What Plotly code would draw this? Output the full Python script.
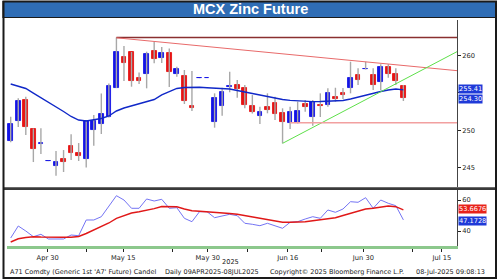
import plotly.graph_objects as go

W, H = 500, 280

# ---------------- data ----------------
open_ = [248.55, 251.30, 254.12, 250.13, 248.11, 245.85, 245.23, 246.09, 247.88, 246.98,
         246.13, 250.09, 250.90, 251.84, 255.70, 259.87, 260.43, 257.01, 257.50, 260.63,
         259.65, 260.36, 257.50, 257.28, 253.25, 256.96, 256.96, 251.06, 253.29, 255.80,
         256.07, 255.70, 253.25, 251.95, 253.07, 253.69, 252.27, 250.93, 250.93, 253.52,
         251.73, 253.38, 253.38, 254.50, 254.99, 255.70, 257.41, 258.15, 257.41, 256.51,
         258.52, 257.50, 255.93]
close = [250.79, 253.92, 250.47, 247.48, 248.32, 245.88, 245.77, 245.80, 246.90, 246.58,
         251.23, 251.25, 252.13, 255.93, 260.54, 259.06, 256.64, 256.60, 260.19, 259.52,
         260.40, 257.77, 258.17, 253.96, 252.94, 256.99, 256.99, 254.36, 255.09, 255.87,
         255.53, 253.38, 252.40, 252.48, 252.71, 252.17, 251.06, 252.40, 252.58, 253.07,
         253.74, 253.25, 254.95, 254.19, 254.72, 256.97, 256.74, 258.19, 256.07, 258.52,
         257.50, 256.64, 254.30]
high = [251.81, 254.28, 254.50, 250.23, 250.25, 245.88, 247.21, 247.34, 249.45, 248.28,
        251.30, 252.04, 254.93, 256.27, 262.44, 261.30, 260.50, 257.74, 260.54, 261.88,
        261.17, 260.97, 258.52, 258.08, 257.95, 256.99, 256.99, 254.95, 255.70, 257.85,
        256.74, 256.07, 254.72, 253.15, 254.95, 254.50, 252.94, 253.15, 253.83, 254.05,
        254.05, 254.95, 255.62, 255.70, 255.66, 259.19, 258.31, 259.19, 258.31, 258.85,
        258.85, 258.31, 256.07]
low = [248.38, 250.43, 249.36, 245.73, 246.81, 245.85, 243.89, 244.39, 246.00, 245.87,
       244.99, 247.92, 249.49, 251.70, 255.66, 256.60, 255.84, 256.20, 255.62, 258.98,
       259.02, 255.80, 257.18, 253.52, 252.58, 256.96, 256.96, 250.34, 251.95, 255.09,
       254.36, 252.94, 252.24, 250.83, 252.27, 251.37, 248.24, 250.16, 250.90, 252.48,
       250.60, 251.77, 253.15, 253.83, 254.19, 254.95, 256.07, 258.15, 255.40, 255.40,
       257.05, 256.07, 253.92]
ma_line = [256.20, 255.89, 255.60, 254.99, 254.39, 253.78, 253.18, 252.51, 251.84, 251.37,
           251.23, 251.37, 251.57, 251.91, 252.58, 252.98, 253.25, 253.52, 253.78, 254.12,
           254.73, 255.19, 255.60, 255.73, 255.76, 255.76, 255.69, 255.62, 255.60, 255.53,
           255.33, 255.13, 254.86, 254.66, 254.46, 254.26, 254.12, 254.01, 253.92, 253.85,
           253.83, 253.85, 253.92, 253.96, 253.99, 254.19, 254.46, 254.66, 254.93, 255.19,
           255.40, 255.53, 255.41]
rsi = [35.48, 43.23, 40.00, 36.32, 37.87, 34.84, 34.84, 34.84, 37.42, 36.97,
       47.10, 47.10, 49.23, 56.13, 62.77, 60.00, 54.65, 54.65, 60.65, 59.35,
       60.45, 54.65, 55.03, 48.19, 46.00, 52.45, 52.45, 48.58, 49.68, 50.77,
       49.87, 44.97, 44.32, 43.42, 44.97, 43.23, 41.74, 45.61, 46.00, 47.74,
       49.23, 48.19, 53.55, 52.06, 54.19, 58.90, 58.52, 61.48, 54.65, 60.00,
       57.87, 56.32, 47.1728]
rsi_ma = [32.90, 34.97, 35.81, 36.32, 36.13, 35.94, 35.94, 35.94, 35.94, 36.45,
          38.39, 40.65, 42.39, 45.16, 48.19, 50.13, 51.61, 52.39, 53.35, 54.39,
          55.81, 55.94, 55.61, 54.19, 53.03, 52.71, 52.45, 52.00, 51.61, 51.29,
          50.84, 50.00, 48.84, 47.94, 47.03, 46.32, 45.61, 45.61, 45.61, 46.00,
          46.58, 47.10, 47.87, 48.52, 50.00, 51.48, 52.90, 54.19, 54.65, 55.48,
          56.13, 55.68, 53.6676]

x_tick_pos = [4.9, 14.9, 26.1, 36.7, 46.7, 57.1]
x_tick_text = ["Apr 30", "May 15", "May 30", "Jun 16", "Jun 30", "Jul 15"]
x_minor_pos = [10.0, 21.4, 31.3, 41.2, 53.2]
price_ticks = [245, 250, 260]
price_minor_ticks = [255]
rsi_ticks = [40, 60]

resistance_start = 14
resistance_level = 262.45
down_trend_start = (14, 262.40)
down_trend_end_value = 257.99
up_trend_start = (36, 248.24)
up_trend_end_value = 260.54
support_start = 37
support_level = 251.0

title = "MCX Zinc Future"
footer = ["A71 Comdty (Generic 1st 'A7' Future) Candel", "Daily 09APR2025-08JUL2025",
          "Copyright\u00a9 2025 Bloomberg Finance L.P.", "08-Jul-2025 09:08:13"]

# ---------------- layout helpers ----------------
def xp(px):
    return px / W

def yp(py):
    return 1 - py / H

x_range = [-0.49, 59.1]
price_range = [242.38, 264.79]
rsi_range = [30.32, 66.45]

BLUE = "#1414e6"
RED = "#e61414"
FONT = "DejaVu Sans"

idx = list(range(len(open_)))

fig = go.Figure()

# wicks
wx, wy = [], []
for i in idx:
    wx += [i, i, None]
    wy += [low[i], high[i], None]
fig.add_trace(go.Scatter(x=wx, y=wy, mode="lines", line=dict(color="#a8a8a8", width=1.4),
                         hoverinfo="skip", xaxis="x", yaxis="y"))

# bodies
cols = [BLUE if close[i] >= open_[i] else RED for i in idx]
fig.add_trace(go.Bar(x=idx, y=[abs(close[i] - open_[i]) for i in idx],
                     base=[min(open_[i], close[i]) for i in idx],
                     width=0.62, marker=dict(color=cols, line=dict(color=cols, width=0.9)),
                     xaxis="x", yaxis="y"))

# moving average
fig.add_trace(go.Scatter(x=idx, y=ma_line, mode="lines", line=dict(color="#1028c8", width=1.4),
                         xaxis="x", yaxis="y"))

# RSI panel
fig.add_trace(go.Scatter(x=idx, y=rsi, mode="lines", line=dict(color="#7474f4", width=1),
                         xaxis="x2", yaxis="y2"))
fig.add_trace(go.Scatter(x=idx, y=rsi_ma, mode="lines", line=dict(color="#e01818", width=1.4),
                         xaxis="x2", yaxis="y2"))

shapes = []
# trend lines
shapes.append(dict(type="line", xref="x", yref="y", x0=resistance_start, x1=x_range[1],
                   y0=resistance_level, y1=resistance_level, line=dict(color="#8a3030", width=1.5)))
shapes.append(dict(type="line", xref="x", yref="y", x0=down_trend_start[0], x1=x_range[1],
                   y0=down_trend_start[1], y1=down_trend_end_value, line=dict(color="#e86a6a", width=1)))
shapes.append(dict(type="line", xref="x", yref="y", x0=up_trend_start[0], x1=x_range[1],
                   y0=up_trend_start[1], y1=up_trend_end_value, line=dict(color="#5ee04a", width=1)))
shapes.append(dict(type="line", xref="x", yref="y", x0=support_start, x1=x_range[1],
                   y0=support_level, y1=support_level, line=dict(color="#f2a0a0", width=1.5)))
# title band
shapes.append(dict(type="rect", xref="paper", yref="paper", x0=xp(3), x1=xp(496), y0=yp(17.5), y1=yp(1.5),
                   fillcolor="#2f6db5", line=dict(color="#1a1a1a", width=1.2), layer="below"))
# panel separator
shapes.append(dict(type="line", xref="paper", yref="paper", x0=xp(3), x1=xp(496), y0=yp(188.6), y1=yp(188.6),
                   line=dict(color="#3a3a3a", width=2.6)))
# outer frame
shapes.append(dict(type="rect", xref="paper", yref="paper", x0=xp(3.5), x1=xp(496), y0=yp(278), y1=yp(1.5),
                   line=dict(color="#1a1a1a", width=2)))

ann = []
ann.append(dict(x=0.5, y=yp(9.5), xref="paper", yref="paper", text="<b>" + title + "</b>", showarrow=False,
                font=dict(family="Liberation Sans", size=14.5, color="white"), xanchor="center", yanchor="middle"))

def value_box(val, yref, bg, txt, shift):
    return dict(x=xp(457.5), y=val, xref="paper", yref=yref, text=txt, showarrow=False,
                xanchor="left", yanchor="middle", bgcolor=bg, borderpad=0, yshift=shift,
                font=dict(family=FONT, size=6.6, color="white"))

ann.append(value_box(ma_line[-1], "y", "#1f3ad8", f"{ma_line[-1]:.2f}", 1.0))
ann.append(value_box(close[-1], "y", "#1f3ad8", f"{close[-1]:.2f}", -1.0))
ann.append(value_box(rsi_ma[-1], "y2", "#e8221a", f"{rsi_ma[-1]:.4f}", 0.8))
ann.append(value_box(rsi[-1], "y2", "#1f3ad8", f"{rsi[-1]:.4f}", -0.8))

ann.append(dict(x=xp(230), y=yp(262), xref="paper", yref="paper", text="2025", showarrow=False,
                font=dict(family=FONT, size=6.6, color="#222"), xanchor="center", yanchor="middle"))
footer_x = [8, 163, 268, 487]
footer_anchor = ["left", "left", "left", "right"]
for fx, fa, ft in zip(footer_x, footer_anchor, footer):
    ann.append(dict(x=xp(fx), y=yp(271.5), xref="paper", yref="paper", text=ft, showarrow=False,
                    font=dict(family=FONT, size=6.5, color="#222"), xanchor=fa, yanchor="middle"))

axis_font = dict(family=FONT, size=6.7, color="#222")

fig.update_layout(
    width=W, height=H, margin=dict(l=0, r=0, t=0, b=0),
    paper_bgcolor="white", plot_bgcolor="white", showlegend=False, bargap=0,
    xaxis=dict(domain=[xp(7), xp(457)], range=x_range, anchor="y", showticklabels=False,
               showgrid=False, zeroline=False, showline=False, ticks=""),
    xaxis2=dict(domain=[xp(7), xp(457)], range=x_range, anchor="y2", matches="x",
                tickmode="array", tickvals=x_tick_pos, ticktext=x_tick_text, ticks="outside",
                ticklen=3, tickcolor="#222", tickwidth=1, tickfont=axis_font,
                showline=True, linecolor="#8cc88c", linewidth=2.5, showgrid=False, zeroline=False,
                minor=dict(tickmode="array", tickvals=x_minor_pos, ticks="outside", ticklen=3,
                           tickcolor="#222", tickwidth=1)),
    yaxis=dict(domain=[yp(187), yp(20)], range=price_range, anchor="x", side="right",
               tickmode="array", tickvals=price_ticks, ticks="outside", ticklen=3, tickcolor="#222",
               tickfont=axis_font, showline=True, linecolor="#444", linewidth=1,
               showgrid=False, zeroline=False,
               minor=dict(tickmode="array", tickvals=price_minor_ticks, ticks="outside", ticklen=3,
                          tickcolor="#222", tickwidth=1)),
    yaxis2=dict(domain=[yp(246), yp(190)], range=rsi_range, anchor="x2", side="right",
                tickmode="array", tickvals=rsi_ticks, ticks="outside", ticklen=3, tickcolor="#222",
                tickfont=axis_font, showline=True, linecolor="#444", linewidth=1,
                showgrid=False, zeroline=False),
    shapes=shapes, annotations=ann,
)

fig.write_html("out.html")
